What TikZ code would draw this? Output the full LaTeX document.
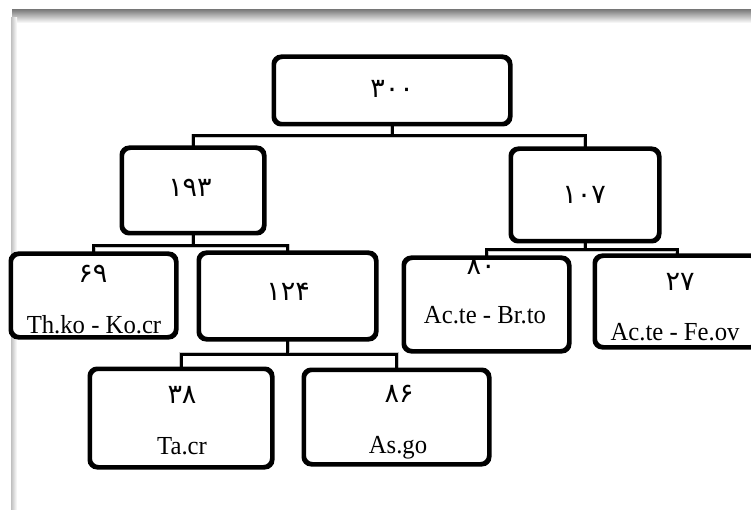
\documentclass[tikz,border=0pt]{standalone}
\usepackage{fontspec}
\setmainfont{Liberation Serif}
\newfontfamily\tnr{Liberation Serif}
\newfontfamily\fa[Script=Arabic]{DejaVu Sans}
\newcommand{\latxt}[1]{\scalebox{0.95}[1]{#1}}
\begin{document}
\begin{tikzpicture}[x=1pt,y=-1pt,
  box/.style={draw=black, line width=3pt, rounded corners=8pt, fill=white, inner sep=0pt},
  conn/.style={draw=black, line width=3pt},
  connshadow/.style={draw=black!22, line width=4pt},
  num/.style={font=\fa\fontsize{27}{30}\selectfont, inner sep=0pt},
  lat/.style={font=\tnr\fontsize{26}{30}\selectfont, inner sep=0pt, anchor=base}]
\useasboundingbox (0,0) rectangle (751,510);
% page frame
\shade[top color=black!50, bottom color=white] (12,10) rectangle (751,23);
\shade[left color=black!25, right color=white] (11,18) rectangle (17,510);
\fill[white] (17,23) rectangle (751,510);
% boxes
\node[box, minimum width=235pt, minimum height=66pt] (root) at (392,90.5) {};
\node[box, minimum width=141pt, minimum height=84pt] (n193) at (193,190.5) {};
\node[box, minimum width=147pt, minimum height=91pt] (n107) at (585,195) {};
\node[box, minimum width=164pt, minimum height=82pt] (n69) at (93.5,295.5) {};
\node[box, minimum width=176pt, minimum height=85pt] (n124) at (287.5,296) {};
\node[box, minimum width=181pt, minimum height=97pt] (n38) at (181,418) {};
\node[box, minimum width=184pt, minimum height=93pt] (n86) at (396.5,417) {};
\node[box, minimum width=164pt, minimum height=92pt] (n80) at (486.5,304.5) {};
\node[box, minimum width=163pt, minimum height=90pt] (n27) at (677,301.5) {};
% bus coordinates
\coordinate (b1) at (392,136);
\coordinate (b2) at (193,246);
\coordinate (b3) at (585,250);
\coordinate (b4) at (287.5,354);
% connector shadows
\begin{scope}[shift={(1.5,2.5)}]
\path[connshadow] (root.south) -- (b1);
\path[connshadow] (n193.north) |- (b1) -| (n107.north);
\path[connshadow] (n193.south) -- (b2);
\path[connshadow] (n69.north) |- (b2) -| (n124.north);
\path[connshadow] (n107.south) -- (b3);
\path[connshadow] (n80.north) |- (b3) -| (n27.north);
\path[connshadow] (n124.south) -- (b4);
\path[connshadow] (n38.north) |- (b4) -| (n86.north);
\end{scope}
% connectors
\path[conn] (root.south) -- (b1);
\path[conn] (n193.north) |- (b1) -| (n107.north);
\path[conn] (n193.south) -- (b2);
\path[conn] (n69.north) |- (b2) -| (n124.north);
\path[conn] (n107.south) -- (b3);
\path[conn] (n80.north) |- (b3) -| (n27.north);
\path[conn] (n124.south) -- (b4);
\path[conn] (n38.north) |- (b4) -| (n86.north);
% redraw box outlines over connectors
\foreach \n in {root,n193,n107,n69,n124,n38,n86,n80,n27}
  \draw[line width=3pt, rounded corners=8pt] (\n.north west) rectangle (\n.south east);
% labels
\node[num] (t300) at (392,89) {۳۰۰};
\node[num] (t193) at (190,188) {۱۹۳};
\node[num] (t107) at (584,195) {۱۰۷};
\node[num] (t124) at (288,292) {۱۲۴};
\node[num] (t69) at (93,274) {۶۹};
\node[num] (t80) at (481,266) {۸۰};
\node[num] (t27) at (680,282) {۲۷};
\node[num] (t38) at (182,395) {۳۸};
\node[num] (t86) at (399,394) {۸۶};
\node[lat] (l69) at (94,333) {\latxt{Th.ko - Ko.cr}};
\node[lat] (l80) at (485,323) {\latxt{Ac.te - Br.to}};
\node[lat] (l27) at (675,340) {\latxt{Ac.te - Fe.ov}};
\node[lat] (l38) at (182,454) {\latxt{Ta.cr}};
\node[lat] (l86) at (398,453) {\latxt{As.go}};
\end{tikzpicture}
\end{document}
